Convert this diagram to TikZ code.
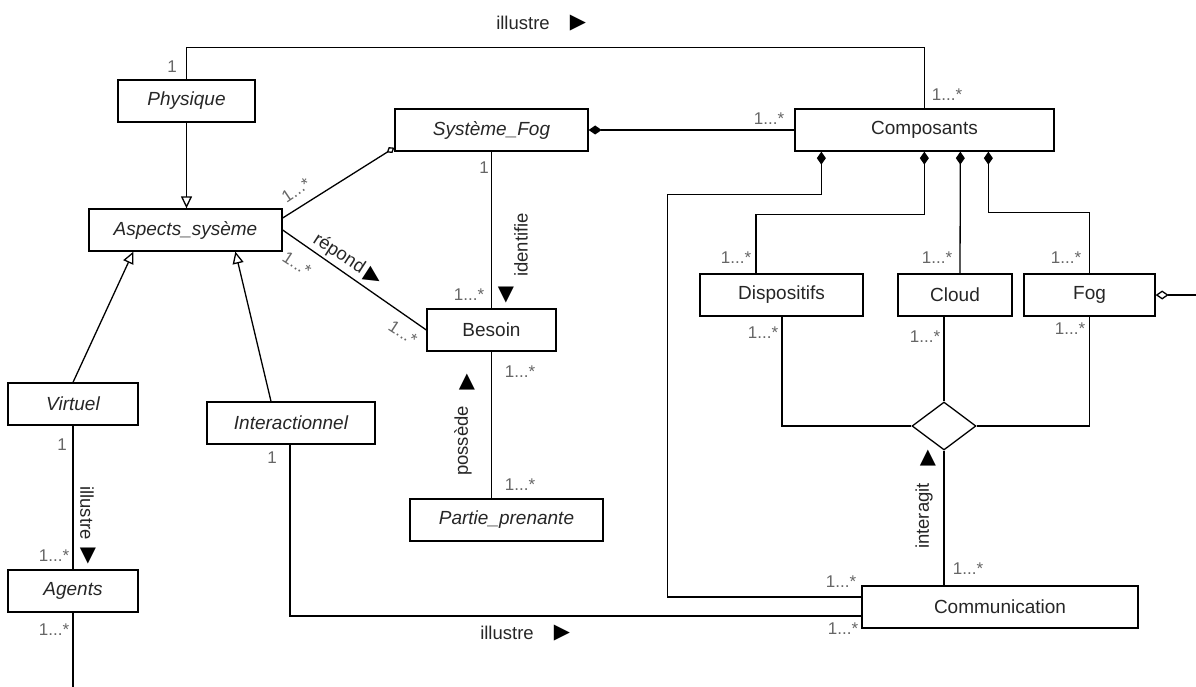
\documentclass[tikz,border=0pt]{standalone}
\usepackage{fontspec}
\setmainfont{Liberation Sans}
\newfontfamily\symfont{DejaVu Sans}
\usetikzlibrary{arrows.meta,shapes.geometric}
\begin{document}
\begin{tikzpicture}[x=1pt,y=-1pt,line width=1.3pt,
 cls/.style={draw,minimum height=42pt,inner sep=0pt,font=\fontsize{19}{21}\selectfont,text=black!85},
 abs/.style={cls,font=\fontsize{19}{21}\selectfont\itshape},
 mult/.style={font=\fontsize{17}{18}\selectfont,text=black!60,inner sep=0pt},
 lbl/.style={font=\fontsize{18.5}{20}\selectfont,text=black!85,inner sep=0pt},
 tri/.style={font=\symfont\fontsize{21}{22}\selectfont,inner sep=0pt},
 gen/.style={-{Triangle[open,length=12pt,width=11pt]}},
 comp/.style={{Diamond[length=13pt,width=9pt]}-},
 agg/.style={{Diamond[open,length=13pt,width=9pt]}-}]
 \useasboundingbox (0,0) rectangle (1196,687);
 \node[abs,minimum width=137pt] (phys) at (186.5,101) {Physique};
 \node[abs,minimum width=193pt] (asp) at (185.5,230) {Aspects\_sysème};
 \node[abs,minimum width=193pt] (sfog) at (491.5,130) {Système\_Fog};
 \node[cls,minimum width=259pt] (compo) at (924.5,130) {Composants};
 \node[cls,minimum width=129pt] (bes) at (491.5,330) {Besoin};
 \node[abs,minimum width=193pt] (part) at (506.5,520) {Partie\_prenante};
 \node[abs,minimum width=130pt] (virt) at (73,404) {Virtuel};
 \node[abs,minimum width=168pt] (inter) at (291,423) {Interactionnel};
 \node[abs,minimum width=130pt] (agents) at (73,591) {Agents};
 \node[cls,minimum width=163pt] (disp) at (781.5,295) {Dispositifs};
 \node[cls,minimum width=114pt] (cloud) at (955,295) {Cloud};
 \node[cls,minimum width=131pt] (fog) at (1089.5,295) {Fog};
 \node[cls,minimum width=276pt] (commu) at (1000,607) {Communication};
 \node[draw,diamond,minimum width=64pt,minimum height=48pt,inner sep=0pt] (rel) at (944,426) {};

 \draw (phys.north) -- ++(0,-32) -| (compo.north);
 \draw[gen] (phys.south) -- (phys.south |- asp.north);
 \draw[gen] (virt.north) -- ([xshift=45pt]asp.south west);
 \draw[gen] ([xshift=-20pt]inter.north) -- ([xshift=147pt]asp.south west);
 \draw[comp] (sfog.east) -- (compo.west);
 \draw[{Diamond[open,length=9pt,width=7pt]}-] ([yshift=4pt]sfog.south west) -- ([yshift=12pt]asp.east);
 \draw (asp.east) -- (bes.west);
 \draw (sfog.south) -- (bes.north);
 \draw (bes.south) -- (bes.south |- part.north);
 \draw (virt) -- (agents);
 \draw (agents.south) -- ++(0,75);
 \draw ([yshift=-9pt]commu.west) -| ([xshift=-1pt]inter.south);
 \draw[comp] ([xshift=27pt]compo.south west) -- ++(0,43) -- ++(-154,0) |- ([yshift=10pt]commu.west);
 \draw[comp] ([xshift=130pt]compo.south west) -- ++(0,63) -| ([xshift=-25.5pt]disp.north);
 \draw[comp] ([xshift=166pt]compo.south west) -- ([xshift=5pt]cloud.north);
 \draw[comp] ([xshift=194pt]compo.south west) -- ++(0,61) -| (fog.north);
 \draw[agg] (fog.east) -- ++(41,0);
 \draw ([xshift=0.5pt]disp.south) |- (rel.west);
 \draw ([xshift=-11pt]cloud.south) -- (rel.north);
 \draw (fog.south) |- (rel.east);
 \draw (rel.south) -- (rel.south |- commu.north);

 \node[lbl] (ill_top) at (523,23) {illustre};
 \node[tri] (ill_top_t) at (578,23) {▶};
 \node[lbl] (ill_bot) at (507,633) {illustre};
 \node[tri] (ill_bot_t) at (562,633) {▶};
 \node[lbl,rotate=-90] (ill_virt) at (87,513) {illustre};
 \node[tri] (ill_virt_t) at (88,556) {▼};
 \node[lbl,rotate=90] (ident) at (521,245) {identifie};
 \node[tri] (ident_t) at (506,295) {▼};
 \node[lbl,rotate=90] (poss) at (463,441) {possède};
 \node[tri] (poss_t) at (467,382) {▲};
 \node[lbl,rotate=90] (interag) at (924,516) {interagit};
 \node[tri] (interag_t) at (928,458) {▲};
 \node[lbl,rotate=-33] (repond) at (339,254) {répond};
 \node[tri,rotate=-33] (repond_t) at (373,277) {▶};

 \node[mult] (m_phys) at (172,67) {1};
 \node[mult] (m_compo_t) at (947,95) {1...*};
 \node[mult] (m_compo_l) at (769,119) {1...*};
 \node[mult] (m_sfog) at (484,168) {1};
 \node[mult] (m_bes_t) at (469,295) {1...*};
 \node[mult] (m_bes_b) at (520,372) {1...*};
 \node[mult] (m_part) at (520,485) {1...*};
 \node[mult,rotate=34] (m_asp_sf) at (296,190) {1...*};
 \node[mult,rotate=-33] (m_asp_bes) at (297,264) {1...*};
 \node[mult,rotate=-33] (m_bes_asp) at (403,333) {1...*};
 \node[mult] (m_virt) at (62,445) {1};
 \node[mult] (m_agents_t) at (54,556) {1...*};
 \node[mult] (m_agents_b) at (54,630) {1...*};
 \node[mult] (m_inter) at (272,458) {1};
 \node[mult] (m_disp_t) at (736,258) {1...*};
 \node[mult] (m_cloud_t) at (937,258) {1...*};
 \node[mult] (m_fog_t) at (1066,258) {1...*};
 \node[mult] (m_disp_b) at (763,333) {1...*};
 \node[mult] (m_cloud_b) at (925,337) {1...*};
 \node[mult] (m_fog_b) at (1070,329) {1...*};
 \node[mult] (m_commu_a) at (841,582) {1...*};
 \node[mult] (m_commu_b) at (843,629) {1...*};
 \node[mult] (m_commu_r) at (968,569) {1...*};
\end{tikzpicture}
\end{document}
